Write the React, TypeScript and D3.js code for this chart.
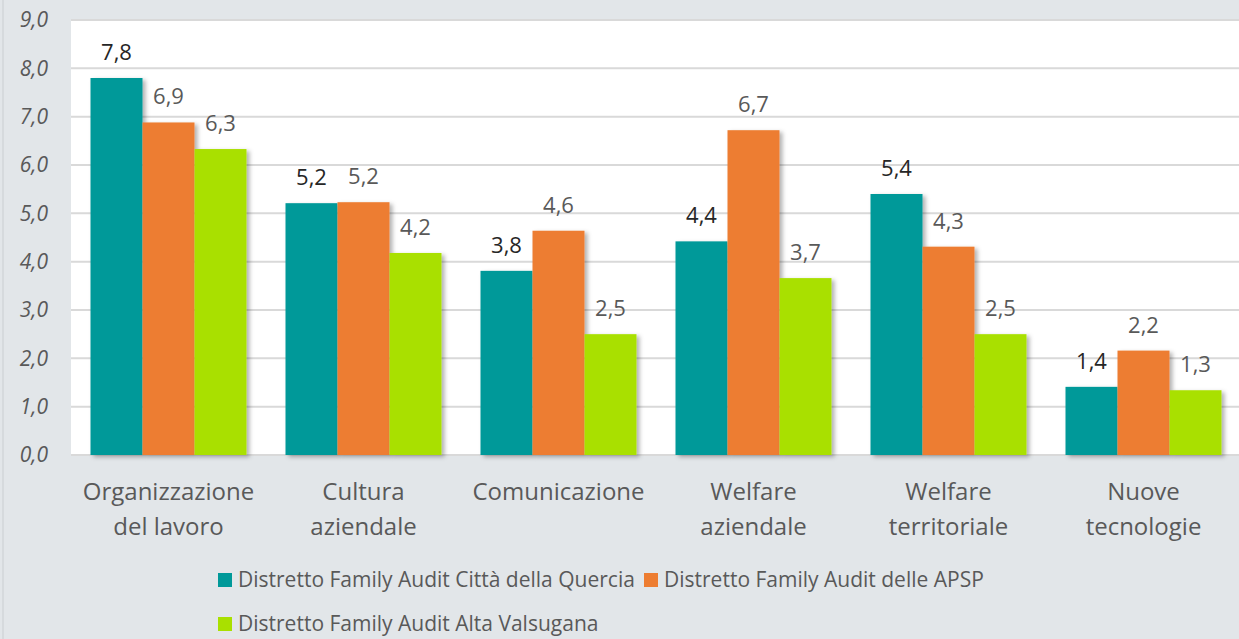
import React from "react";
import * as d3 from "d3";

const categories: string[][] = [
  ["Organizzazione", "del lavoro"],
  ["Cultura", "aziendale"],
  ["Comunicazione"],
  ["Welfare", "aziendale"],
  ["Welfare", "territoriale"],
  ["Nuove", "tecnologie"],
];
const seriesNames = [
  "Distretto Family Audit Città della Quercia",
  "Distretto Family Audit delle APSP",
  "Distretto Family Audit Alta Valsugana",
];
const quercia = [7.8, 5.21, 3.81, 4.42, 5.4, 1.41];
const apsp = [6.88, 5.23, 4.64, 6.72, 4.31, 2.16];
const valsugana = [6.33, 4.18, 2.5, 3.66, 2.5, 1.34];
const yTicks = [0, 1, 2, 3, 4, 5, 6, 7, 8, 9];

const colors = ["#009999", "#ED7D31", "#A9E000"];
const labelColors = ["#262626", "#595959", "#595959"];
const FONT = "'Open Sans', sans-serif";

export default function App() {
  const W = 1239;
  const H = 639;
  const left = 71;
  const right = 1241;
  const top = 20;
  const bottom = 455;
  const series = [quercia, apsp, valsugana];
  const keys = categories.map((c) => c.join(" "));

  const x = d3.scaleBand<string>().domain(keys).range([left, right]).paddingInner(0.2).paddingOuter(0.1);
  const xs = d3.scaleBand<number>().domain([0, 1, 2]).range([0, x.bandwidth()]);
  const y = d3.scaleLinear().domain([0, 9]).range([bottom, top]);
  const fmt = (v: number) => v.toFixed(1).replace(".", ",");

  return (
    <div style={{ position: "fixed", left: 0, top: 0, width: W, height: H }}>
      <svg width={W} height={H} style={{ display: "block" }}>
        <defs>
          <filter id="sh" x="-20%" y="-20%" width="150%" height="150%">
            <feDropShadow dx="3" dy="2" stdDeviation="2" floodColor="#000" floodOpacity="0.3" />
          </filter>
        </defs>
        <rect x={0} y={0} width={W} height={H} fill="#E2E6E9" />
        <line x1={3} x2={3} y1={0} y2={H} stroke="#D2D6D9" strokeWidth={1.5} />
        <rect x={left} y={top} width={W - left} height={bottom - top} fill="#FFFFFF" />
        {yTicks.map((t) => (
          <g key={t}>
            <line x1={left} x2={W} y1={y(t)} y2={y(t)} stroke="#D9D9D9" strokeWidth={2} />
            <text
              x={48}
              y={y(t)}
              dy="0.35em"
              textAnchor="end"
              fontFamily={FONT}
              fontStyle="italic"
              fontSize={21}
              fill="#595959"
            >
              {fmt(t)}
            </text>
          </g>
        ))}
        {keys.map((k, i) => (
          <g key={k}>
            {series.map((s, j) => (
              <rect
                key={j}
                x={(x(k) as number) + (xs(j) as number)}
                y={y(s[i])}
                width={xs.bandwidth()}
                height={bottom - y(s[i])}
                fill={colors[j]}
                filter="url(#sh)"
              />
            ))}
            {series.map((s, j) => (
              <text
                key={"l" + j}
                x={(x(k) as number) + (xs(j) as number) + xs.bandwidth() / 2}
                y={y(s[i]) - 18}
                textAnchor="middle"
                fontFamily={FONT}
                fontSize={22}
                fill={labelColors[j]}
              >
                {fmt(s[i])}
              </text>
            ))}
            {categories[i].map((line, li) => (
              <text
                key={"c" + li}
                x={(x(k) as number) + x.bandwidth() / 2}
                y={492 + li * 35}
                dy="0.35em"
                textAnchor="middle"
                fontFamily={FONT}
                fontSize={24}
                fill="#595959"
              >
                {line}
              </text>
            ))}
          </g>
        ))}
        {[
          { i: 0, sx: 218, cy: 580 },
          { i: 1, sx: 644, cy: 580 },
          { i: 2, sx: 218, cy: 624 },
        ].map((l) => (
          <g key={l.i}>
            <rect x={l.sx} y={l.cy - 7} width={14} height={14} fill={colors[l.i]} />
            <text x={l.sx + 20} y={l.cy} dy="0.35em" fontFamily={FONT} fontSize={21} fill="#595959">
              {seriesNames[l.i]}
            </text>
          </g>
        ))}
      </svg>
    </div>
  );
}
